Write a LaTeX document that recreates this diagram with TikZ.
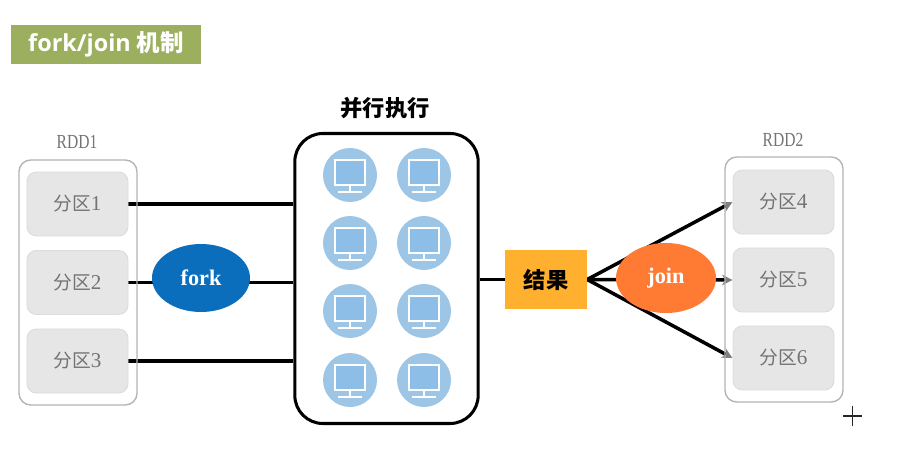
\documentclass[tikz,border=0pt]{standalone}
\usepackage{fontspec}
\setmainfont{Liberation Serif}
\newfontfamily\cjk{Noto Sans CJK SC}
\newfontfamily\titlefont{Open Sans}
\newfontfamily\rddfont[FakeStretch=0.78]{Liberation Serif}
\usetikzlibrary{arrows.meta}
\usetikzlibrary{positioning,shapes.geometric,backgrounds}
\definecolor{titlegreen}{HTML}{9BAF5E}
\definecolor{cellgray}{HTML}{E6E6E6}
\definecolor{cellline}{HTML}{DCDCDC}
\definecolor{rddline}{HTML}{B4B4B4}
\definecolor{textgray}{HTML}{737373}
\definecolor{pcblue}{HTML}{9CC5E6}
\definecolor{pcscreen}{HTML}{8DBEE8}
\definecolor{forkblue}{HTML}{0A6EBD}
\definecolor{joinorange}{HTML}{FF7A33}
\definecolor{resultyellow}{HTML}{FFB02E}
\newcommand{\cellname}[1]{{\cjk 分区}{\fontsize{18}{18}\selectfont #1}}
\tikzset{
	rddbox/.style={draw=rddline,line width=1.2pt,rounded corners=10pt,minimum width=3.54cm,minimum height=7.35cm,inner sep=0pt},
	cellbox/.style={draw=cellline,fill=cellgray,line width=.8pt,rounded corners=8pt,minimum width=3.03cm,minimum height=1.92cm,inner sep=0pt,text=textgray,font=\fontsize{16}{16}\selectfont},
	rddlabel/.style={text=textgray,font=\rddfont\fontsize{17}{17}\selectfont},
	pcnode/.style={circle,fill=pcblue,minimum size=1.62cm,inner sep=0pt},
	link/.style={draw=black,line width=3pt},
	linkarrow/.style={link,-{Stealth[gray,length=9pt,width=9pt]}},
	screen/.pic={
		\draw[white,fill=pcscreen,line width=1.2pt] (-15,-15) rectangle (15,10);
		\draw[white,line width=1.4pt] (0,10) -- (0,17);
		\draw[white,line width=1.4pt] (-12,17) -- (12,17);
	}
}
\begin{document}
\begin{tikzpicture}[x=.03cm,y=-.03cm]
	\useasboundingbox (0,0) rectangle (914,453);
	\node[fill=titlegreen,text=white,minimum width=5.7cm,minimum height=1.17cm,inner sep=0pt,font=\fontsize{20}{20}\selectfont\bfseries] (title) at (106,44.5) {\titlefont fork/join \cjk 机制};
	% left side
	\node[rddbox] (rddA) at (78,282.5) {};
	\node[rddlabel] (rddAname) at (77,142) {RDD1};
	\node[cellbox] (p1) at (77.5,204) {\cellname{1}};
	\node[cellbox] (p2) at (77.5,282.5) {\cellname{2}};
	\node[cellbox] (p3) at (77.5,361) {\cellname{3}};
	% middle
	\node[draw=black,line width=2.6pt,rounded corners=24pt,minimum width=5.5cm,minimum height=8.7cm,inner sep=0pt] (par) at (386.5,278.5) {};
	\node[font=\cjk\bfseries\fontsize{19}{19}\selectfont] (parname) at (385,108) {并行执行};
	\foreach \px/\pname in {350/a,424/b}
		\foreach \py/\pnum in {175/1,243/2,311/3,380/4}
		{
			\node[pcnode] (pc\pname\pnum) at (\px,\py) {};
			\pic at (pc\pname\pnum) {screen};
		}
	\node[fill=forkblue,ellipse,minimum width=2.94cm,minimum height=2.04cm,inner sep=0pt,text=white,font=\bfseries\fontsize{19}{19}\selectfont] (fork) at (201,278) {fork};
	\node[fill=resultyellow,minimum width=2.46cm,minimum height=1.74cm,inner sep=0pt,font=\cjk\bfseries\fontsize{19}{19}\selectfont] (result) at (546,279.5) {结果};
	\node[fill=joinorange,ellipse,minimum width=3cm,minimum height=2.1cm,inner sep=0pt,text=white,font=\bfseries\fontsize{19}{19}\selectfont] (join) at (666,278) {join};
	% right side
	\node[rddbox] (rddB) at (784,279.5) {};
	\node[rddlabel] (rddBname) at (783,140) {RDD2};
	\node[cellbox] (p4) at (783.5,202) {\cellname{4}};
	\node[cellbox] (p5) at (783.5,280) {\cellname{5}};
	\node[cellbox] (p6) at (783.5,358) {\cellname{6}};
	% connectors
	\begin{scope}[on background layer]
	\path[link] (p1.east) -- (p1.east -| par.west);
	\path[link] (p2.east) -- (p2.east -| fork.center);
	\path[link] (p2.east -| fork.center) -- (p2.east -| par.west);
	\path[link] (p3.east) -- (p3.east -| par.west);
	\path[link] (result.west -| par.east) -- (result.west);
	\path[linkarrow] (result.east) -- (p4.west);
	\path[linkarrow] (result.east) -- (p5.west);
	\path[linkarrow] (result.east) -- (p6.west);
	\end{scope}
	% cursor
	\draw[black!85,line width=1.6pt] (843,416) -- (862,416);
	\draw[black!85,line width=1.6pt] (852.5,406) -- (852.5,426);
\end{tikzpicture}
\end{document}
